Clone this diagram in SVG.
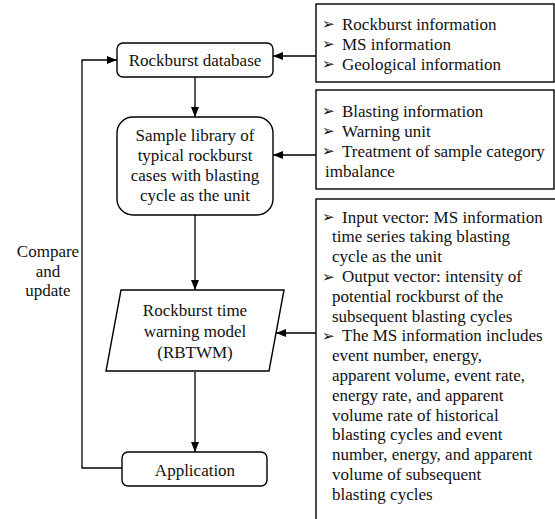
<svg xmlns="http://www.w3.org/2000/svg" width="555" height="519" viewBox="0 0 555 519">
<defs>
<marker id="ah" markerWidth="10" markerHeight="8" refX="10" refY="4" orient="auto" markerUnits="userSpaceOnUse">
<path d="M0,0 L10,4 L0,8 Z" fill="#000"/>
</marker>
</defs>
<rect width="555" height="519" fill="#fff"/>
<g id="connectors" fill="none" stroke="#000" stroke-width="1.3">
<line x1="316" y1="56" x2="273" y2="56" marker-end="url(#ah)"/>
<line x1="316" y1="155" x2="273" y2="155" marker-end="url(#ah)"/>
<line x1="316" y1="333" x2="276" y2="333" marker-end="url(#ah)"/>
<line x1="195" y1="77" x2="195" y2="117" marker-end="url(#ah)"/>
<line x1="195" y1="215" x2="195" y2="290" marker-end="url(#ah)"/>
<line x1="195" y1="372" x2="195" y2="452" marker-end="url(#ah)"/>
<polyline points="122,468 82,468 82,60 117,60" marker-end="url(#ah)"/>
</g>
<g id="label">
<text font-family="Liberation Serif" font-size="17" fill="#111" text-anchor="middle" x="48" y="257">Compare</text>
<text font-family="Liberation Serif" font-size="17" fill="#111" text-anchor="middle" x="48" y="276.5">and</text>
<text font-family="Liberation Serif" font-size="17" fill="#111" text-anchor="middle" x="48" y="296">update</text>
</g>
<g id="db">
<rect fill="#fff" stroke="#000" stroke-width="1.4" x="117" y="43" width="156" height="34" rx="6"/>
<text font-family="Liberation Serif" font-size="17" fill="#111" text-anchor="middle" x="195" y="66">Rockburst database</text>
</g>
<g id="sample">
<rect fill="#fff" stroke="#000" stroke-width="1.4" x="117" y="117" width="156" height="98" rx="16"/>
<text font-family="Liberation Serif" font-size="17" fill="#111" text-anchor="middle" x="195" y="140.5">Sample library of</text>
<text font-family="Liberation Serif" font-size="17" fill="#111" text-anchor="middle" x="195" y="160.5">typical rockburst</text>
<text font-family="Liberation Serif" font-size="17" fill="#111" text-anchor="middle" x="195" y="180.5">cases with blasting</text>
<text font-family="Liberation Serif" font-size="17" fill="#111" text-anchor="middle" x="195" y="200.5">cycle as the unit</text>
</g>
<g id="model">
<polygon fill="#fff" stroke="#000" stroke-width="1.4" points="121,290 284,290 269,371 106,371"/>
<text font-family="Liberation Serif" font-size="17" fill="#111" text-anchor="middle" x="195" y="316">Rockburst time</text>
<text font-family="Liberation Serif" font-size="17" fill="#111" text-anchor="middle" x="195" y="337">warning model</text>
<text font-family="Liberation Serif" font-size="17" fill="#111" text-anchor="middle" x="195" y="358">(RBTWM)</text>
</g>
<g id="app">
<rect fill="#fff" stroke="#000" stroke-width="1.4" x="122" y="452" width="145" height="34" rx="6"/>
<text font-family="Liberation Serif" font-size="17" fill="#111" text-anchor="middle" x="195" y="476">Application</text>
</g>
<g id="info1">
<rect fill="#fff" stroke="#000" stroke-width="1.4" x="316" y="4" width="238" height="78"/>
<text font-family="DejaVu Sans" font-size="15" fill="#111" x="322" y="29">➢</text>
<text font-family="Liberation Serif" font-size="17" fill="#111" x="342" y="29.5">Rockburst information</text>
<text font-family="DejaVu Sans" font-size="15" fill="#111" x="322" y="49">➢</text>
<text font-family="Liberation Serif" font-size="17" fill="#111" x="342" y="49.5">MS information</text>
<text font-family="DejaVu Sans" font-size="15" fill="#111" x="322" y="69">➢</text>
<text font-family="Liberation Serif" font-size="17" fill="#111" x="342" y="69.5">Geological information</text>
</g>
<g id="info2">
<rect fill="#fff" stroke="#000" stroke-width="1.4" x="316" y="90" width="238" height="99"/>
<text font-family="DejaVu Sans" font-size="15" fill="#111" x="322" y="116">➢</text>
<text font-family="Liberation Serif" font-size="17" fill="#111" x="342" y="116.5">Blasting information</text>
<text font-family="DejaVu Sans" font-size="15" fill="#111" x="322" y="136">➢</text>
<text font-family="Liberation Serif" font-size="17" fill="#111" x="342" y="136.5">Warning unit</text>
<text font-family="DejaVu Sans" font-size="15" fill="#111" x="322" y="156">➢</text>
<text font-family="Liberation Serif" font-size="17" fill="#111" x="342" y="156.5">Treatment of sample category</text>
<text font-family="Liberation Serif" font-size="17" fill="#111" x="325" y="176.5">imbalance</text>
</g>
<g id="info3">
<rect fill="#fff" stroke="#000" stroke-width="1.4" x="316" y="199" width="245" height="330"/>
<text font-family="DejaVu Sans" font-size="15" fill="#111" x="322" y="222">➢</text>
<text font-family="Liberation Serif" font-size="17" fill="#111" x="342" y="222.5">Input vector: MS information</text>
<text font-family="Liberation Serif" font-size="17" fill="#111" x="332" y="242.3">time series taking blasting</text>
<text font-family="Liberation Serif" font-size="17" fill="#111" x="332" y="262.1">cycle as the unit</text>
<text font-family="DejaVu Sans" font-size="15" fill="#111" x="322" y="281.5">➢</text>
<text font-family="Liberation Serif" font-size="17" fill="#111" x="342" y="281.9">Output vector: intensity of</text>
<text font-family="Liberation Serif" font-size="17" fill="#111" x="332" y="301.7">potential rockburst of the</text>
<text font-family="Liberation Serif" font-size="17" fill="#111" x="332" y="321.5">subsequent blasting cycles</text>
<text font-family="DejaVu Sans" font-size="15" fill="#111" x="322" y="341">➢</text>
<text font-family="Liberation Serif" font-size="17" fill="#111" x="342" y="341.3">The MS information includes</text>
<text font-family="Liberation Serif" font-size="17" fill="#111" x="332" y="361.1">event number, energy,</text>
<text font-family="Liberation Serif" font-size="17" fill="#111" x="332" y="380.9">apparent volume, event rate,</text>
<text font-family="Liberation Serif" font-size="17" fill="#111" x="332" y="400.7">energy rate, and apparent</text>
<text font-family="Liberation Serif" font-size="17" fill="#111" x="332" y="420.5">volume rate of historical</text>
<text font-family="Liberation Serif" font-size="17" fill="#111" x="332" y="440.3">blasting cycles and event</text>
<text font-family="Liberation Serif" font-size="17" fill="#111" x="332" y="460.1">number, energy, and apparent</text>
<text font-family="Liberation Serif" font-size="17" fill="#111" x="332" y="479.9">volume of subsequent</text>
<text font-family="Liberation Serif" font-size="17" fill="#111" x="332" y="499.7">blasting cycles</text>
</g>
</svg>
